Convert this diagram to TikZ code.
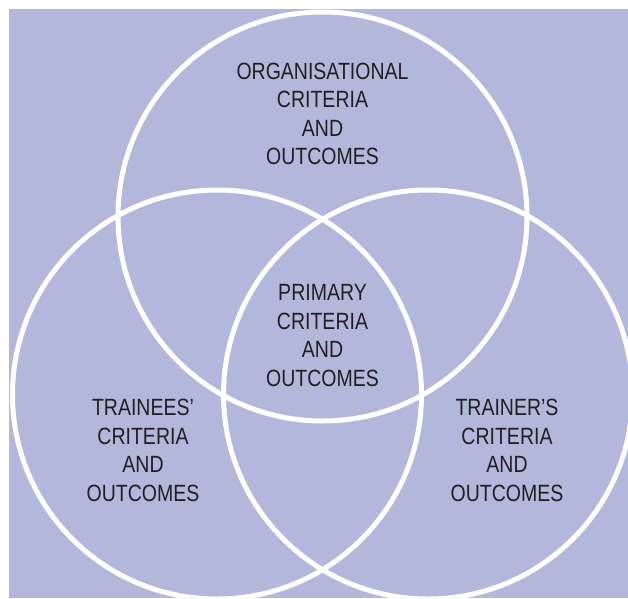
\documentclass[tikz,border=0pt]{standalone}
\usepackage{fontspec}
\newfontfamily\venfont[FakeStretch=0.83]{Liberation Sans}
\usepackage{tikz}
\usetikzlibrary{calc}

\definecolor{lavender}{HTML}{B4B7DC}
\definecolor{inkgray}{HTML}{231F20}

\tikzset{
	ring/.style={white, line width=5pt},
	label/.style={align=center, text=inkgray, inner sep=0pt,
		font=\venfont\fontsize{23.5}{28.6}\selectfont}
}

\begin{document}
\begin{tikzpicture}[x=1pt,y=-1pt]
	
	\useasboundingbox (0,0) rectangle (628,598);
	\clip (0,0) rectangle (628,598);
	\fill[lavender] (9,9) rectangle (628,598);
	
	\coordinate (org) at (322.5,216.5);
	\coordinate (tee) at (217,394.5);
	\coordinate (ter) at (428,394.5);
	
	\draw[ring] (org) circle (204.5);
	\draw[ring] (tee) circle (204.5);
	\draw[ring] (ter) circle (204.5);
	
	\node[label] (orgtext) at (322.5,114) {ORGANISATIONAL\\CRITERIA\\AND\\OUTCOMES};
	\node[label] (primtext) at (322.5,335.5) {PRIMARY\\CRITERIA\\AND\\OUTCOMES};
	\node[label] (teetext) at (143,450.5) {TRAINEES’\\CRITERIA\\AND\\OUTCOMES};
	\node[label] (tertext) at (507,450.5) {TRAINER’S\\CRITERIA\\AND\\OUTCOMES};
	
\end{tikzpicture}
\end{document}
